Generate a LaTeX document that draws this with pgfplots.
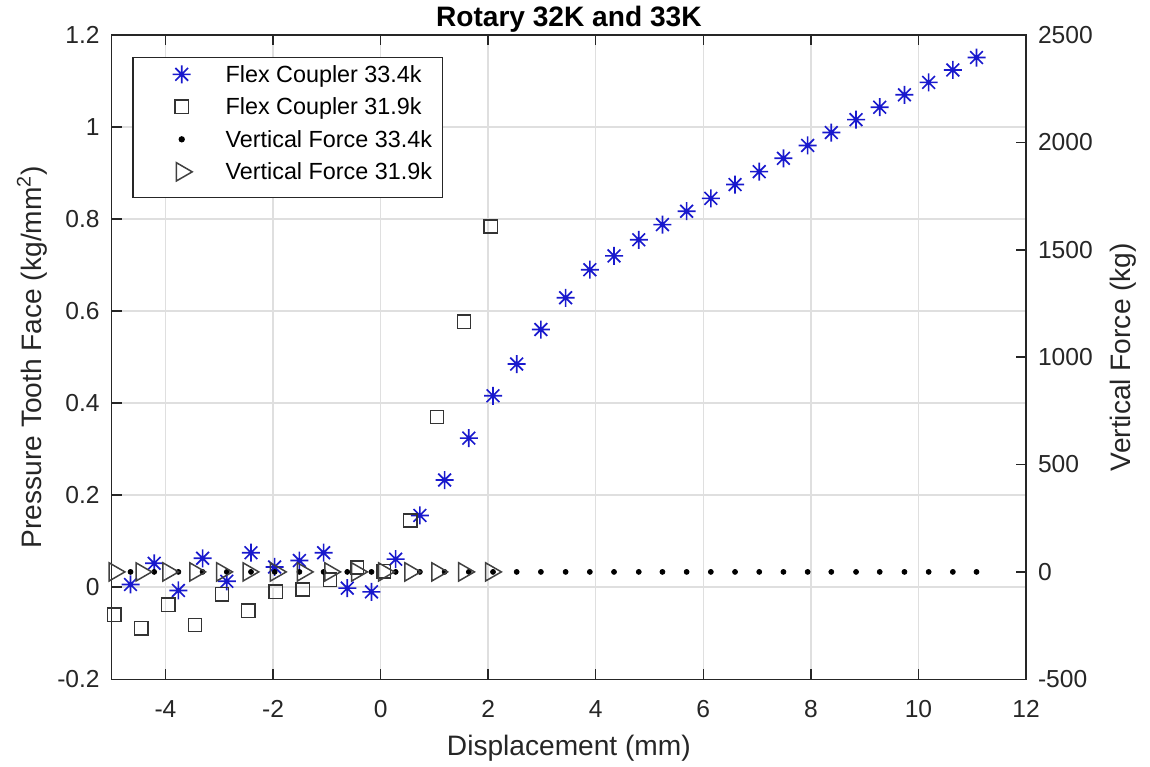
\documentclass[border=0pt]{standalone}
\usepackage{fontspec}
\setmainfont{Liberation Sans}
\usepackage{pgfplots}
\usepackage{pgfplotstable}
\pgfplotsset{compat=1.18}

\definecolor{starblue}{RGB}{25,25,205}
\definecolor{axisgray}{RGB}{38,38,38}
\definecolor{gridgray}{RGB}{223,223,223}

% eight-armed asterisk marker
\pgfdeclareplotmark{asterisk8}{%
  \pgfpathmoveto{\pgfpoint{0pt}{\pgfplotmarksize}}%
  \pgfpathlineto{\pgfpoint{0pt}{-\pgfplotmarksize}}%
  \pgfpathmoveto{\pgfpoint{\pgfplotmarksize}{0pt}}%
  \pgfpathlineto{\pgfpoint{-\pgfplotmarksize}{0pt}}%
  \pgfpathmoveto{\pgfpoint{0.7071\pgfplotmarksize}{0.7071\pgfplotmarksize}}%
  \pgfpathlineto{\pgfpoint{-0.7071\pgfplotmarksize}{-0.7071\pgfplotmarksize}}%
  \pgfpathmoveto{\pgfpoint{0.7071\pgfplotmarksize}{-0.7071\pgfplotmarksize}}%
  \pgfpathlineto{\pgfpoint{-0.7071\pgfplotmarksize}{0.7071\pgfplotmarksize}}%
  \pgfusepathqstroke}

% Flex coupler 33.4k: displacement (mm), pressure (kg/mm^2)
\pgfplotstableread{
x y
-4.65 0.006
-4.21 0.052
-3.76 -0.007
-3.31 0.063
-2.86 0.013
-2.41 0.075
-1.97 0.044
-1.51 0.058
-1.06 0.075
-0.62 -0.002
-0.17 -0.010
0.28 0.061
0.73 0.156
1.19 0.233
1.64 0.324
2.09 0.416
2.53 0.485
2.98 0.560
3.44 0.629
3.89 0.690
4.34 0.720
4.80 0.755
5.24 0.788
5.69 0.817
6.14 0.845
6.59 0.875
7.04 0.903
7.49 0.932
7.94 0.960
8.38 0.988
8.84 1.016
9.28 1.043
9.74 1.070
10.19 1.097
10.64 1.124
11.08 1.151
}\flexA

% Flex coupler 31.9k
\pgfplotstableread{
x y
-4.95 -0.060
-4.45 -0.089
-3.95 -0.038
-3.45 -0.082
-2.95 -0.015
-2.46 -0.051
-1.95 -0.010
-1.45 -0.005
-0.94 0.016
-0.44 0.043
0.06 0.035
0.55 0.145
1.05 0.370
1.55 0.577
2.05 0.784
}\flexB

% Vertical force 33.4k (kg)
\pgfplotstableread{
x y
-4.65 0
-4.21 0
-3.76 0
-3.31 0
-2.86 0
-2.41 0
-1.97 0
-1.51 0
-1.06 0
-0.62 0
-0.17 0
0.28 0
0.73 0
1.19 0
1.64 0
2.09 0
2.53 0
2.98 0
3.44 0
3.89 0
4.34 0
4.80 0
5.24 0
5.69 0
6.14 0
6.59 0
7.04 0
7.49 0
7.94 0
8.38 0
8.84 0
9.28 0
9.74 0
10.19 0
10.64 0
11.08 0
}\vertA

% Vertical force 31.9k (kg)
\pgfplotstableread{
x y
-4.95 0
-4.45 0
-3.95 0
-3.45 0
-2.95 0
-2.46 0
-1.95 0
-1.45 0
-0.94 0
-0.44 0
0.06 0
0.55 0
1.05 0
1.55 0
2.05 0
}\vertB

\pgfplotsset{
  base/.style={
    scale only axis, width=182.86mm, height=128.86mm,
    xmin=-5, xmax=12,
    /pgf/number format/assume math mode=true,
    /pgf/number format/1000 sep={},
    tick align=inside, major tick length=2mm,
    axis line style={axisgray, line width=0.3mm},
    tick style={axisgray, line width=0.3mm},
    ticklabel style={font=\fontsize{14}{16}\selectfont, text=axisgray},
    label style={font=\fontsize{16}{19}\selectfont, text=axisgray},
  },
  sFlexA/.style={only marks, mark=asterisk8, mark size=1.8mm, starblue, line width=0.33mm},
  sFlexB/.style={only marks, mark=square, mark size=1.33mm, black!80, line width=0.3mm},
  sVertA/.style={only marks, mark=*, mark size=0.5mm, black},
  sVertB/.style={only marks, mark=triangle, mark size=2.1mm, mark options={rotate=-90}, black!75, line width=0.3mm},
}

\begin{document}
\begin{tikzpicture}
\begin{axis}[base,
  ymin=-0.2, ymax=1.2,
  ytick={-0.2,0,0.2,0.4,0.6,0.8,1,1.2},
  xtick={-4,-2,0,2,4,6,8,10,12},
  ytick pos=left, xtick pos=both, xticklabel pos=lower,
  grid=major, major grid style={gridgray, line width=0.3mm},
  xticklabel style={anchor=base, inner sep=0pt, yshift=-7.66mm},
  yticklabel style={anchor=east, inner sep=0pt, xshift=-2.34mm},
  xlabel={Displacement (mm)},
  xlabel style={at={(axis description cs:0.5,0)}, anchor=base, yshift=-15.2mm},
  ylabel={Pressure Tooth Face (kg/mm\textsuperscript{2})},
  ylabel style={at={(axis description cs:-0.0766,0.5)}, anchor=base},
  title={Rotary 32K and 33K},
  title style={at={(axis description cs:0.5,1)}, anchor=base, yshift=-0.45mm,
    font=\bfseries\fontsize{16}{19}\selectfont, text=black},
]
\addplot[sFlexA] table[x=x, y=y] {\flexA};
\addplot[sFlexB] table[x=x, y=y] {\flexB};
\end{axis}

\begin{axis}[base,
  ymin=-500, ymax=2500,
  ytick={-500,0,500,1000,1500,2000,2500},
  axis x line=none, axis y line*=right,
  yticklabel style={anchor=west, inner sep=0pt, xshift=2.34mm},
  ylabel={Vertical Force (kg)},
  ylabel style={at={(axis description cs:1.1148,0.5)}, anchor=base},
  legend style={at={(0.0225,0.9663)}, anchor=north west,
    draw=axisgray, line width=0.25mm, fill=white,
    inner xsep=2.1mm, inner ysep=1mm,
    font=\fontsize{13.3}{16}\selectfont, text=black,
    cells={anchor=west},
    nodes={inner sep=0pt, text height=4.0mm, text depth=2.5mm},
    column sep=1.1mm, row sep=0pt},
  legend image code/.code={%
    \path (0mm,0mm) (15mm,0mm);
    \draw[mark repeat=2, mark phase=2, #1] plot coordinates {(0mm,0.85mm) (7.5mm,0.85mm) (15mm,0.85mm)};},
]
\addlegendimage{sFlexA}
\addlegendentry{Flex Coupler 33.4k}
\addlegendimage{sFlexB}
\addlegendentry{Flex Coupler 31.9k}
\addplot[sVertA] table[x=x, y=y] {\vertA};
\addlegendentry{Vertical Force 33.4k}
\addplot[sVertB] table[x=x, y=y] {\vertB};
\addlegendentry{Vertical Force 31.9k}
\end{axis}

\pgfresetboundingbox
\path[use as bounding box] (-22.34mm,-17.54mm) rectangle (207.66mm,135.86mm);
\end{tikzpicture}
\end{document}
